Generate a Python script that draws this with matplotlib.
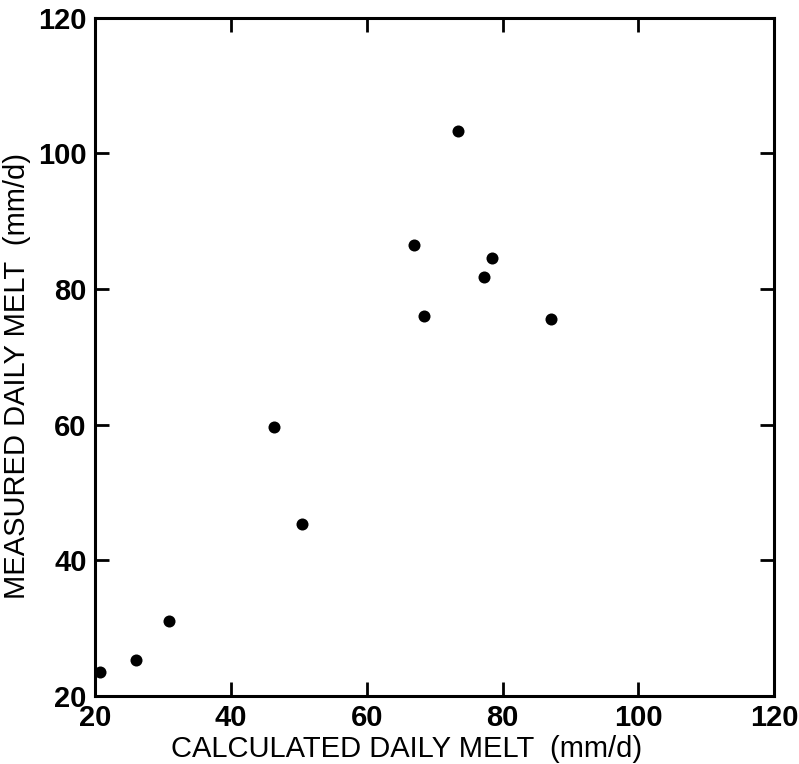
import numpy as np
import matplotlib.pyplot as plt

# values
calculated = [20.7, 26.0, 30.9, 46.3, 50.4, 66.9, 68.4, 73.4, 77.2, 78.5, 87.2]
measured = [23.5, 25.3, 31.1, 59.7, 45.4, 86.5, 76.0, 103.3, 81.7, 84.5, 75.6]
ticks = [20, 40, 60, 80, 100, 120]

plt.rc('font', family=['Liberation Sans', 'DejaVu Sans'])

fig = plt.figure(figsize=(7.99, 7.64), dpi=100)
ax = fig.add_axes([0.119, 0.089, 0.850, 0.888])

ax.scatter(calculated, measured, s=75, color='k', zorder=3, linewidths=0)

ax.set_xlim(20, 120)
ax.set_ylim(20, 120)
ax.set_xticks(ticks)
ax.set_yticks(ticks)

for s in ax.spines.values():
    s.set_linewidth(2.2)
ax.tick_params(direction='in', length=10, width=2, top=True, right=True,
               labelsize=21, pad=6)
for lab in ax.get_xticklabels() + ax.get_yticklabels():
    lab.set_fontweight('bold')

ax.set_xlabel('CALCULATED DAILY MELT  (mm/d)', fontsize=21)
ax.set_ylabel('MEASURED DAILY MELT  (mm/d)', fontsize=21)
ax.xaxis.set_label_coords(0.459, -0.058)
ax.yaxis.set_label_coords(-0.094, 0.472)

fig.savefig('out.png', dpi=100)
